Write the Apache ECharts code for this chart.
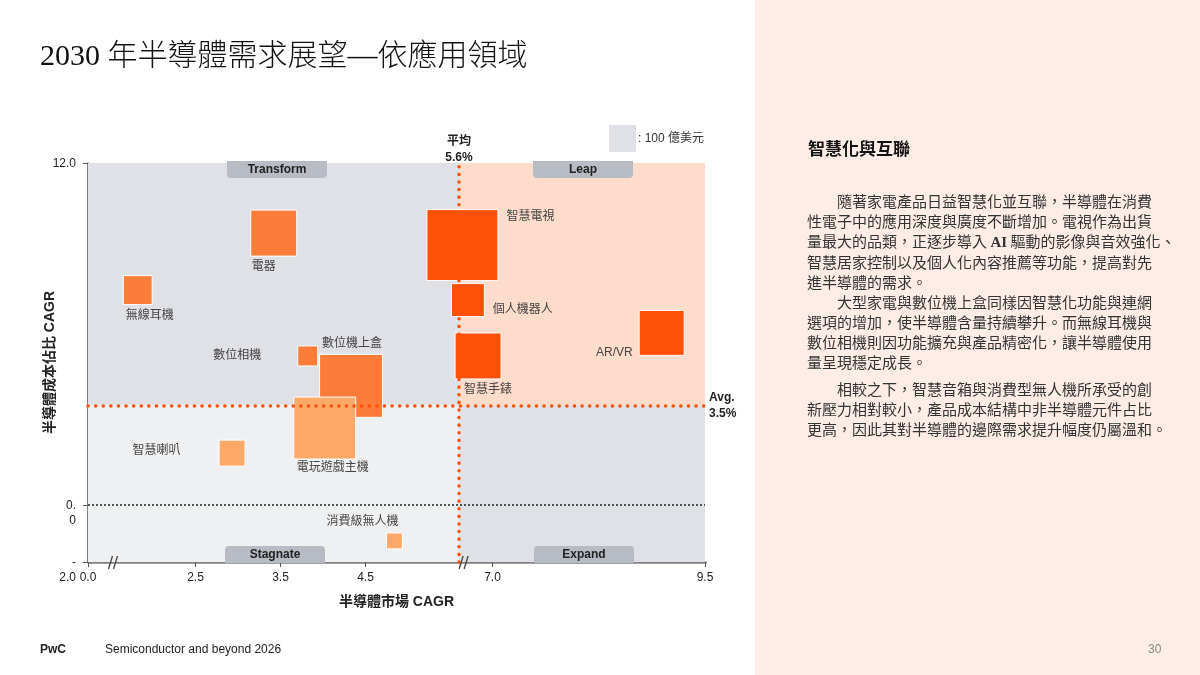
<!DOCTYPE html>
<html lang="zh-Hant">
<head>
<meta charset="UTF-8">
<title>2030 年半導體需求展望—依應用領域</title>
<script src="https://cdn.jsdelivr.net/npm/echarts@6/dist/echarts.min.js"></script>
<style>
  body { margin: 0; font-family: "Liberation Sans", "Noto Sans CJK TC", sans-serif; }
  #slide { position: relative; width: 1200px; height: 675px; background: #fff; overflow: hidden; }
  #panel { position: absolute; left: 755px; top: 0; width: 445px; height: 675px; background: #FEEDE6; }
  #chart { position: absolute; left: 0; top: 0; width: 1200px; height: 675px; }
  .title { position: absolute; left: 40px; top: 36px; font-size: 30px; line-height: 38px; color: #111;
           font-family: "Liberation Serif", "Noto Sans CJK TC", serif; font-weight: 300; white-space: nowrap; }
  .head { position: absolute; left: 808px; top: 136px; font-size: 17px; line-height: 24px; font-weight: bold;
          color: #111; font-family: "Noto Sans CJK TC", sans-serif; }
  .para { position: absolute; left: 807px; font-size: 15px; line-height: 20px; color: #333;
          font-family: "Noto Sans CJK TC", sans-serif; white-space: pre; }
  .ai { font-family: "Liberation Serif", serif; font-weight: bold; }
  .foot { position: absolute; top: 641px; font-size: 12px; line-height: 16px; color: #222; }
</style>
</head>
<body>
<div id="slide">
  <div id="panel"></div>
  <div id="chart"></div>
  <div class="title">2030 年半導體需求展望—依應用領域</div>
  <div class="head">智慧化與互聯</div>
  <div class="para" style="top:191px">　　隨著家電產品日益智慧化並互聯，半導體在消費
性電子中的應用深度與廣度不斷增加。電視作為出貨
量最大的品類，正逐步導入 <span class="ai">AI</span> 驅動的影像與音效強化、
智慧居家控制以及個人化內容推薦等功能，提高對先
進半導體的需求。</div>
  <div class="para" style="top:292px">　　大型家電與數位機上盒同樣因智慧化功能與連網
選項的增加，使半導體含量持續攀升。而無線耳機與
數位相機則因功能擴充與產品精密化，讓半導體使用
量呈現穩定成長。</div>
  <div class="para" style="top:379px">　　相較之下，智慧音箱與消費型無人機所承受的創
新壓力相對較小，產品成本結構中非半導體元件占比
更高，因此其對半導體的邊際需求提升幅度仍屬溫和。</div>
  <div class="foot" style="left:40px;font-weight:bold">PwC</div>
  <div class="foot" style="left:105px">Semiconductor and beyond 2026</div>
  <div class="foot" style="left:1148px;color:#888">30</div>
</div>
<script>
// 應用領域
var categories = ['無線耳機', '電器', '智慧電視', '個人機器人', '數位相機', '數位機上盒',
                  '智慧手錶', 'AR/VR', '電玩遊戲主機', '智慧喇叭', '消費級無人機'];
// 半導體市場 CAGR (%)
var marketCagr = [1.82, 3.42, 5.64, 6.71, 3.82, 4.33, 6.83, 8.99, 4.02, 2.93, 4.84];
// 半導體成本佔比 CAGR (%)
var costShareCagr = [7.54, 9.54, 9.12, 7.19, 5.23, 4.18, 5.23, 6.04, 2.70, 1.82, -1.26];
// 市場規模 (億美元)
var marketSize = [115, 290, 691, 149, 55, 544, 290, 278, 527, 93, 35];
// 色階
var tier = ['mid', 'mid', 'high', 'high', 'mid', 'mid', 'high', 'high', 'low', 'low', 'low'];

var avgMarket = 5.6;
var avgCost = 3.5;

var xTicks = [0, 2.5, 3.5, 4.5, 7.0, 9.5];
var xTickLabels = ['0.0', '2.5', '3.5', '4.5', '7.0', '9.5'];
var yTicks = [-2, 0, 12];
var yTickLabels = ['-\n2.0', '0.\n0', '12.0'];
var xBreaks = [
  { start: 0.3, end: 1.565, gap: 0.03 },
  { start: 5.66, end: 6.69, gap: 0.024 }
];

var tierColor = { high: '#FD5108', mid: '#FE7C39', low: '#FFA96B' };
// 標籤位置 (樣式)
var labelLayout = [
  { position: 'bottom', distance: 5, offset: [12, 0] },
  { position: 'bottom', distance: 4, offset: [-10, 0] },
  { position: 'right', distance: 8, offset: [0, -28] },
  { position: 'right', distance: 8, offset: [0, 10] },
  { position: 'left', distance: 36, offset: [0, 0] },
  { position: 'top', distance: 4, offset: [1, 0] },
  { position: 'bottom', distance: 4, offset: [10, 0] },
  { position: 'left', distance: 6, offset: [0, 20] },
  { position: 'bottom', distance: 2, offset: [8, 0] },
  { position: 'left', distance: 38, offset: [0, -2] },
  { position: 'top', distance: 5, offset: [-32, 0] }
];

var font = '"Liberation Sans", "Noto Sans CJK TC", sans-serif';
var legendSide = 27; // 100 億美元的方塊邊長

var points = categories.map(function (name, i) {
  return {
    name: name,
    value: [marketCagr[i], costShareCagr[i], marketSize[i]],
    itemStyle: { color: tierColor[tier[i]] },
    label: labelLayout[i]
  };
});

var chart = echarts.init(document.getElementById('chart'), null, { renderer: 'canvas' });

function quadrantLabel(text, x, y, top) {
  return [
    { type: 'rect', z: 100,
      shape: { x: x, y: y, width: 100, height: 17, r: top ? [0, 0, 4, 4] : [4, 4, 0, 0] },
      style: { fill: '#B6BBC4' } },
    { type: 'text', z: 101, x: x + 50, y: y + 9,
      style: { text: text, fill: '#222', font: 'bold 12px ' + font, align: 'center', verticalAlign: 'middle' } }
  ];
}

var graphics = [].concat(
  quadrantLabel('Transform', 227, 161, true),
  quadrantLabel('Leap', 533, 161, true),
  quadrantLabel('Stagnate', 225, 546, false),
  quadrantLabel('Expand', 534, 546, false),
  [
    { type: 'rect', z: 100, shape: { x: 609, y: 125, width: legendSide, height: legendSide }, style: { fill: '#DFE1E6' } },
    { type: 'text', z: 100, x: 638, y: 139,
      style: { text: ': 100 億美元', font: '12px ' + font, fill: '#333', verticalAlign: 'middle' } }
  ]
);

chart.setOption({
  animation: false,
  grid: { left: 88, top: 163, width: 617, height: 399, outerBoundsMode: 'none' },
  xAxis: {
    type: 'value', min: 0, max: 9.5,
    breaks: xBreaks,
    breakArea: { show: false },
    name: '半導體市場 CAGR', nameLocation: 'middle', nameGap: 33,
    nameTextStyle: { fontSize: 14, fontWeight: 'bold', color: '#222', fontFamily: font },
    axisLine: { onZero: false, lineStyle: { color: '#808080', width: 2.5 } },
    axisTick: { customValues: xTicks, length: 5, lineStyle: { color: '#555' } },
    axisLabel: {
      customValues: xTicks, margin: 10, fontSize: 12, color: '#222', fontFamily: font,
      formatter: function (v) { return xTickLabels[xTicks.indexOf(v)]; }
    },
    splitLine: { show: false }
  },
  yAxis: {
    type: 'value', min: -2, max: 12,
    name: '半導體成本佔比 CAGR', nameLocation: 'middle', nameGap: 31, nameRotate: 90,
    nameMoveOverlap: false,
    nameTextStyle: { fontSize: 14, fontWeight: 'bold', color: '#222', fontFamily: font },
    axisLine: { show: true, lineStyle: { color: '#555', width: 1.5 } },
    axisTick: { show: true, customValues: yTicks, length: 5, lineStyle: { color: '#555' } },
    axisLabel: {
      customValues: yTicks, margin: 12, fontSize: 12, color: '#222', fontFamily: font,
      lineHeight: 15, verticalAlign: 'top', padding: [-7, 0, 0, 0],
      formatter: function (v) { return yTickLabels[yTicks.indexOf(v)]; }
    },
    splitLine: { show: false }
  },
  series: [
    {
      name: 'quadrants', type: 'scatter', data: [], z: 0, silent: true,
      markArea: {
        silent: true,
        data: [
          [{ xAxis: 0, yAxis: avgCost, itemStyle: { color: '#DFE1E6' } }, { xAxis: avgMarket, yAxis: 12 }],
          [{ xAxis: avgMarket, yAxis: avgCost, itemStyle: { color: '#FEDCCB' } }, { xAxis: 9.5, yAxis: 12 }],
          [{ xAxis: 0, yAxis: -2, itemStyle: { color: '#EFF0F2' } }, { xAxis: avgMarket, yAxis: avgCost }],
          [{ xAxis: avgMarket, yAxis: -2, itemStyle: { color: '#DFE1E6' } }, { xAxis: 9.5, yAxis: avgCost }]
        ]
      }
    },
    {
      name: 'averages', type: 'scatter', data: [], z: 1, silent: true,
      markLine: {
        silent: true, symbol: 'none',
        data: [
          { yAxis: 0, lineStyle: { color: '#222', width: 1.5, type: [2, 2] }, label: { show: false } },
          { xAxis: avgMarket,
            lineStyle: { color: '#FD5108', width: 3.5, type: [0.1, 7.5], cap: 'round' },
            label: { show: true, position: 'end', distance: -3, formatter: '平均\n' + avgMarket.toFixed(1) + '%',
                     fontWeight: 'bold', fontSize: 12, lineHeight: 16, color: '#222', fontFamily: font } },
          { yAxis: avgCost,
            lineStyle: { color: '#FD5108', width: 3.5, type: [0.1, 7.5], cap: 'round' },
            label: { show: true, position: 'end', distance: 4, formatter: 'Avg.\n' + avgCost.toFixed(1) + '%',
                     fontWeight: 'bold', fontSize: 12, lineHeight: 16, color: '#222', fontFamily: font, align: 'left' } }
        ]
      }
    },
    {
      name: 'breaks', type: 'custom', z: 4, silent: true,
      data: xBreaks.map(function (b) { return [b.start, -2]; }),
      renderItem: function (params, api) {
        var p = api.coord([api.value(0), api.value(1)]);
        var st = { stroke: '#444', lineWidth: 1.3 };
        return {
          type: 'group',
          children: [
            { type: 'line', shape: { x1: p[0] - 5, y1: p[1] + 7, x2: p[0] - 1, y2: p[1] - 6 }, style: st },
            { type: 'line', shape: { x1: p[0], y1: p[1] + 7, x2: p[0] + 4, y2: p[1] - 6 }, style: st }
          ]
        };
      }
    },
    {
      name: '應用領域', type: 'scatter', z: 3,
      symbol: 'rect',
      symbolSize: function (val) { return legendSide * Math.sqrt(val[2] / 100); },
      itemStyle: { borderColor: '#fff', borderWidth: 1, opacity: 1 },
      label: { show: true, formatter: '{b}', fontSize: 12, color: '#444', fontFamily: font },
      data: points
    }
  ],
  graphic: graphics
});
</script>
</body>
</html>
